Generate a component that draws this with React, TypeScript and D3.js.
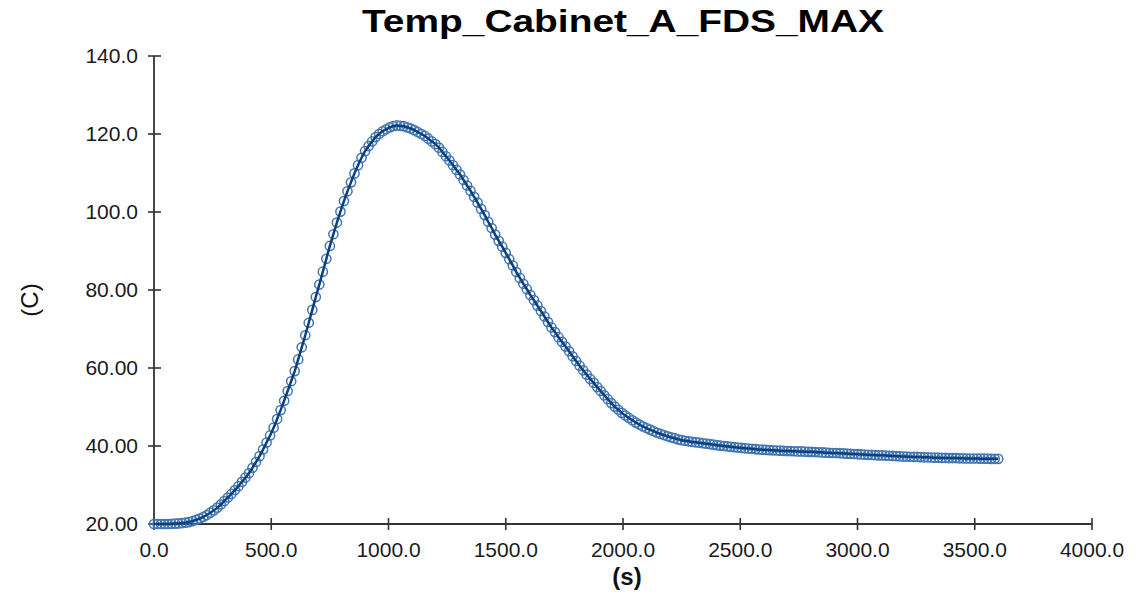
import React from "react";
import * as d3 from "d3";

const chartTitle = "Temp_Cabinet_A_FDS_MAX";
const xLabel = "(s)";
const yLabel = "(C)";
const sampleStep = 15; // seconds between samples
const xTickValues = [0, 500, 1000, 1500, 2000, 2500, 3000, 3500, 4000];
const xTickLabels = ["0.0", "500.0", "1000.0", "1500.0", "2000.0", "2500.0", "3000.0", "3500.0", "4000.0"];
const yTickValues = [20, 40, 60, 80, 100, 120, 140];
const yTickLabels = ["20.00", "40.00", "60.00", "80.00", "100.0", "120.0", "140.0"];

// Temperature (C) sampled every 15 s from 0 to 3600 s
const temps = [
  20.0, 20.0, 20.0, 20.0, 20.0, 20.05, 20.1,
  20.15, 20.25, 20.35, 20.5, 20.75, 21.05, 21.4,
  21.8, 22.3, 22.9, 23.5, 24.2, 25.0, 25.9,
  26.8, 27.7, 28.7, 29.7, 30.8, 31.9, 33.0,
  34.4, 35.9, 37.4, 39.1, 40.9, 42.7, 44.7,
  46.9, 49.2, 51.6, 54.1, 56.6, 59.2,
  62.2, 65.3, 68.4, 71.6, 74.9, 78.2, 81.4,
  84.7, 88.0, 91.3, 94.3, 97.3, 100.1, 102.8,
  105.3, 107.6, 109.9, 112.0, 113.9, 115.6,
  116.9, 118.1, 119.2, 120.0, 120.7, 121.2, 121.7,
  122.0, 122.2, 122.1, 122.0, 121.7, 121.4, 121.0,
  120.5, 120.0, 119.5, 118.8, 118.1, 117.4,
  116.5, 115.4, 114.3, 113.2, 112.0, 110.8, 109.6,
  108.2, 106.8, 105.4, 103.9, 102.4, 100.8, 99.2,
  97.5, 95.9, 94.2, 92.6, 91.1, 89.5,
  87.9, 86.3, 84.6, 83.1, 81.6, 80.2, 78.7,
  77.4, 76.0, 74.6, 73.2, 71.8, 70.4, 69.2,
  67.9, 66.7, 65.5, 64.3, 63.0, 61.8,
  60.6, 59.4, 58.3, 57.2, 56.2, 55.1, 54.1,
  53.0, 52.0, 51.0, 50.1, 49.3, 48.5, 47.8,
  47.2, 46.6, 46.0, 45.5, 45.0, 44.6,
  44.2, 43.8, 43.4, 43.1, 42.8, 42.5, 42.2,
  42.0, 41.7, 41.5, 41.35, 41.2, 41.05, 40.95,
  40.85, 40.7, 40.6, 40.5, 40.35, 40.2,
  40.1, 40.0, 39.9, 39.8, 39.7, 39.6, 39.5,
  39.4, 39.35, 39.3, 39.2, 39.1, 39.05, 39.0,
  38.95, 38.9, 38.85, 38.8, 38.75, 38.7,
  38.7, 38.65, 38.6, 38.6, 38.55, 38.5, 38.5,
  38.45, 38.4, 38.35, 38.3, 38.25, 38.2, 38.2,
  38.15, 38.1, 38.05, 38.0, 37.95, 37.9,
  37.85, 37.8, 37.75, 37.7, 37.65, 37.6, 37.6,
  37.55, 37.5, 37.45, 37.4, 37.35, 37.3, 37.3,
  37.25, 37.2, 37.2, 37.15, 37.1, 37.1,
  37.05, 37.0, 37.0, 36.95, 36.95, 36.9, 36.9,
  36.9, 36.85, 36.85, 36.8, 36.8, 36.8, 36.8,
  36.75, 36.75, 36.75, 36.7, 36.7, 36.7,
];

const W = 1136;
const H = 594;
const left = 154;
const right = 1092;
const top = 56;
const bottom = 524;
const font = "Arial, 'Liberation Sans', Helvetica, sans-serif";

export default function App() {
  const x = d3.scaleLinear().domain([0, 4000]).range([left, right]);
  const y = d3.scaleLinear().domain([20, 140]).range([bottom, top]);
  const pts = temps.map((v, i) => [i * sampleStep, v] as [number, number]);
  const line = d3
    .line<[number, number]>()
    .x((d) => x(d[0]))
    .y((d) => y(d[1]))
    .curve(d3.curveMonotoneX);

  const axisColor = "#333";
  return (
    <svg
      width={W}
      height={H}
      style={{ position: "absolute", left: 0, top: 0, background: "#fff" }}
    >
      <rect x={0} y={0} width={W} height={H} fill="#fff" />
      <text
        x={623}
        y={32}
        textAnchor="middle"
        fontFamily={font}
        fontWeight="bold"
        fontSize={31}
        textLength={522}
        lengthAdjust="spacingAndGlyphs"
        fill="#000"
      >
        {chartTitle}
      </text>

      {/* axes */}
      <line x1={left} x2={left} y1={top} y2={bottom} stroke={axisColor} strokeWidth={1.8} />
      <line x1={left} x2={right} y1={bottom} y2={bottom} stroke={axisColor} strokeWidth={1.8} />
      {yTickValues.map((v, i) => (
        <g key={"y" + v}>
          <line x1={left - 6} x2={left + 7} y1={y(v)} y2={y(v)} stroke={axisColor} strokeWidth={1.6} />
          <text
            x={138}
            y={y(v) + 7}
            textAnchor="end"
            fontFamily={font}
            fontSize={21}
            fill="#1a1a1a"
          >
            {yTickLabels[i]}
          </text>
        </g>
      ))}
      {xTickValues.map((v, i) => (
        <g key={"x" + v}>
          <line x1={x(v)} x2={x(v)} y1={bottom - 6} y2={bottom + 6} stroke={axisColor} strokeWidth={1.6} />
          <text
            x={x(v)}
            y={557}
            textAnchor="middle"
            fontFamily={font}
            fontSize={21}
            fill="#1a1a1a"
          >
            {xTickLabels[i]}
          </text>
        </g>
      ))}
      <text
        x={627}
        y={585}
        textAnchor="middle"
        fontFamily={font}
        fontSize={24}
        fontWeight={600}
        fill="#111"
      >
        {xLabel}
      </text>
      <text
        transform={`translate(38, 300) rotate(-90)`}
        textAnchor="middle"
        fontFamily={font}
        fontSize={24}
        fill="#111"
      >
        {yLabel}
      </text>

      {/* markers */}
      <g>
        {pts.map((d, i) => (
          <circle
            key={i}
            cx={x(d[0])}
            cy={y(d[1])}
            r={4.6}
            fill="none"
            stroke="#4176b2"
            strokeWidth={1.5}
          />
        ))}
      </g>
      <path d={line(pts) || ""} fill="none" stroke="#0b3f7e" strokeWidth={2.5} />
    </svg>
  );
}
